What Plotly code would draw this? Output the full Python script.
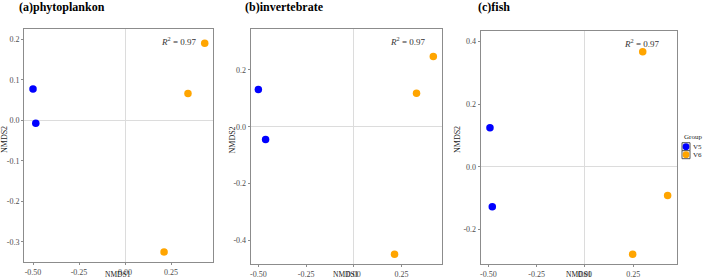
import plotly.graph_objects as go

W, H = 709, 279

# ---------------- data ----------------
panel_titles = ["(a)phytoplankon", "(b)invertebrate", "(c)fish"]
groups = ["V5", "V6"]
group_colors = {"V5": "#0000FF", "V6": "#FFA500"}

# panel a: phytoplankton
a_v5_x = [-0.500, -0.485]
a_v5_y = [0.077, -0.007]
a_v6_x = [0.433, 0.342, 0.212]
a_v6_y = [0.190, 0.066, -0.325]

# panel b: invertebrate
b_v5_x = [-0.500, -0.462]
b_v5_y = [0.131, -0.045]
b_v6_x = [0.416, 0.328, 0.213]
b_v6_y = [0.246, 0.117, -0.448]

# panel c: fish
c_v5_x = [-0.492, -0.480]
c_v5_y = [0.125, -0.128]
c_v6_x = [0.299, 0.428, 0.247]
c_v6_y = [0.368, -0.092, -0.280]

r2_text = "<i>R</i><sup>2</sup> = 0.97"

x_tickvals = [-0.50, -0.25, 0.00, 0.25]
x_ticktext = ["-0.50", "-0.25", "0.00", "0.25"]

a_y_tickvals = [-0.3, -0.2, -0.1, 0.0, 0.1, 0.2]
a_y_ticktext = ["-0.3", "-0.2", "-0.1", "0.0", "0.1", "0.2"]
b_y_tickvals = [-0.4, -0.2, 0.0, 0.2]
b_y_ticktext = ["-0.4", "-0.2", "0.0", "0.2"]
c_y_tickvals = [-0.2, 0.0, 0.2, 0.4]
c_y_ticktext = ["-0.2", "0.0", "0.2", "0.4"]

# ---------------- layout helpers ----------------
def px_x(v):
    return v / W

def px_y(v):
    return 1 - v / H

SERIF = "Liberation Serif, Times New Roman, serif"

panels = [
    dict(sx="x", sy="y", xd=[24, 213], yd=[29, 262], xr=[-0.549, 0.478], yr=[-0.350, 0.2255],
         v5=(a_v5_x, a_v5_y), v6=(a_v6_x, a_v6_y), yt=(a_y_tickvals, a_y_ticktext),
         title_x=17, ytitle_x=4),
    dict(sx="x2", sy="y2", xd=[250.7, 442.3], yd=[28.7, 264.3], xr=[-0.540, 0.463], yr=[-0.483, 0.344],
         v5=(b_v5_x, b_v5_y), v6=(b_v6_x, b_v6_y), yt=(b_y_tickvals, b_y_ticktext),
         title_x=242.5, ytitle_x=231.5),
    dict(sx="x3", sy="y3", xd=[480.7, 676.7], yd=[31, 264.3], xr=[-0.540, 0.475], yr=[-0.312, 0.434],
         v5=(c_v5_x, c_v5_y), v6=(c_v6_x, c_v6_y), yt=(c_y_tickvals, c_y_ticktext),
         title_x=476.5, ytitle_x=457),
]

fig = go.Figure()
annotations = []
shapes = []

for i, p in enumerate(panels):
    for g, (xs, ys) in (("V5", p["v5"]), ("V6", p["v6"])):
        fig.add_trace(go.Scatter(
            x=xs, y=ys, mode="markers", name=g, showlegend=False,
            xaxis=p["sx"], yaxis=p["sy"],
            marker=dict(color=group_colors[g], size=7.5, line=dict(width=0)),
        ))
    xkey = "xaxis" + ("" if i == 0 else str(i + 1))
    ykey = "yaxis" + ("" if i == 0 else str(i + 1))
    common = dict(showgrid=False, zeroline=True, zerolinecolor="#dcdcdc", zerolinewidth=1,
                  showline=True, mirror=True, linecolor="#8c8c8c", linewidth=1,
                  ticks="outside", ticklen=2, tickcolor="#8c8c8c", tickwidth=1,
                  tickfont=dict(family=SERIF, size=8, color="#4d4d4d"))
    fig.update_layout({
        xkey: dict(common, domain=[px_x(p["xd"][0]), px_x(p["xd"][1])], range=p["xr"],
                   anchor=p["sy"], tickvals=x_tickvals, ticktext=x_ticktext),
        ykey: dict(common, domain=[px_y(p["yd"][1]), px_y(p["yd"][0])], range=p["yr"],
                   anchor=p["sx"], tickvals=p["yt"][0], ticktext=p["yt"][1]),
    })
    xdom = p["sx"] + " domain"
    ydom = p["sy"] + " domain"
    # panel title
    annotations.append(dict(text="<b>" + panel_titles[i] + "</b>", xref="paper", yref="paper",
                            x=px_x(p["title_x"]), y=px_y(7), xanchor="left", yanchor="middle",
                            showarrow=False, font=dict(family=SERIF, size=12, color="#000")))
    # R^2
    annotations.append(dict(text=r2_text, xref=xdom, yref=ydom, x=0.82, y=0.947,
                            xanchor="center", yanchor="middle", showarrow=False,
                            font=dict(family=SERIF, size=9, color="#333")))
    # axis titles (sits just under the tick labels, as in the reference)
    annotations.append(dict(text="NMDS1", xref=xdom, yref="paper", x=0.5, y=px_y(274.5),
                            xanchor="center", yanchor="middle", showarrow=False,
                            font=dict(family=SERIF, size=7.5, color="#222")))
    annotations.append(dict(text="NMDS2", xref="paper", yref="paper", x=px_x(p["ytitle_x"]), y=px_y(140),
                            xanchor="center", yanchor="middle", textangle=-90, showarrow=False,
                            font=dict(family=SERIF, size=8, color="#222")))

# manual legend (Group)
annotations.append(dict(text="Group", xref="paper", yref="paper", x=px_x(681.5), y=px_y(137.5),
                        xanchor="left", yanchor="middle", showarrow=False,
                        font=dict(family=SERIF, size=7, color="#222")))
for k, g in enumerate(groups):
    top = 142.7 + 8 * k
    shapes.append(dict(type="rect", xref="paper", yref="paper",
                       x0=px_x(682), x1=px_x(690), y0=px_y(top + 8), y1=px_y(top),
                       line=dict(color="#555", width=1), fillcolor="white"))
    shapes.append(dict(type="circle", xref="paper", yref="paper",
                       x0=px_x(682.6), x1=px_x(689.4), y0=px_y(top + 7.4), y1=px_y(top + 0.6),
                       line=dict(width=0), fillcolor=group_colors[g]))
    annotations.append(dict(text=g, xref="paper", yref="paper", x=px_x(691), y=px_y(top + 4),
                            xanchor="left", yanchor="middle", showarrow=False,
                            font=dict(family=SERIF, size=7, color="#222")))

fig.update_layout(
    width=W, height=H, margin=dict(l=0, r=0, t=0, b=0),
    paper_bgcolor="white", plot_bgcolor="white",
    showlegend=False, annotations=annotations, shapes=shapes,
)

fig.write_html("out.html")
